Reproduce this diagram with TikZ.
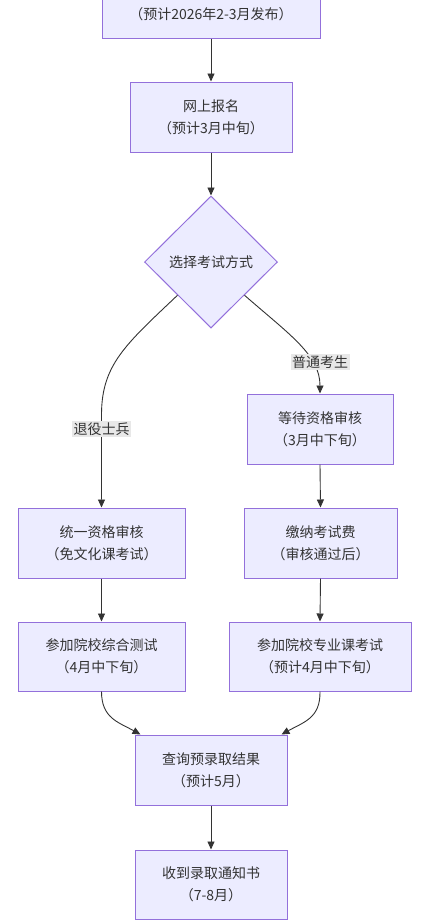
\documentclass[tikz,border=0pt]{standalone}
\usepackage{fontspec}
\setmainfont{Noto Sans CJK SC}
\usetikzlibrary{arrows.meta,shapes.geometric}
\definecolor{boxfill}{HTML}{ECECFF}
\definecolor{boxline}{HTML}{9370DB}
\definecolor{txt}{HTML}{333333}
\definecolor{lblbg}{HTML}{E8E8E8}
\tikzset{
  x=1pt, y=-1pt,
  flowbox/.style={draw=boxline, fill=boxfill, line width=1pt, inner sep=0pt, text=txt,
    align=center, minimum height=70pt, font=\fontsize{14pt}{22pt}\selectfont},
  choice/.style={diamond, draw=boxline, fill=boxfill, line width=1pt, inner sep=0pt,
    minimum width=133pt, minimum height=132pt, text=txt, font=\fontsize{14pt}{22pt}\selectfont},
  edgelbl/.style={fill=lblbg, text=txt, inner sep=1.5pt, font=\fontsize{14pt}{18pt}\selectfont},
  flow/.style={draw=txt, line width=0.9pt, -{Triangle[length=8pt,width=7pt]}},
}
\begin{document}
\begin{tikzpicture}
\useasboundingbox (0,0) rectangle (426,922);
\node[flowbox, minimum width=218pt] (top) at (211,3) {\phantom{网上报名}\\（预计2026年2-3月发布）};
\node[flowbox, minimum width=162pt] (reg) at (211,117) {网上报名\\（预计3月中旬）};
\node[choice] (dia) at (211,262) {选择考试方式};
\node[flowbox, minimum width=146pt] (wait) at (320,429) {等待资格审核\\（3月中下旬）};
\node[flowbox, minimum width=167pt] (unify) at (101.5,543) {统一资格审核\\（免文化课考试）};
\node[flowbox, minimum width=153pt] (fee) at (320.5,543) {缴纳考试费\\（审核通过后）};
\node[flowbox, minimum width=167pt, minimum height=69pt] (test) at (101.5,656.5) {参加院校综合测试\\（4月中下旬）};
\node[flowbox, minimum width=182pt, minimum height=69pt] (exam) at (320,656.5) {参加院校专业课考试\\（预计4月中下旬）};
\node[flowbox, minimum width=152pt] (query) at (211,770) {查询预录取结果\\（预计5月）};
\node[flowbox, minimum width=152pt, minimum height=69pt] (notice) at (211,884.5) {收到录取通知书\\（7-8月）};

\draw[flow] (top.south) -- (reg.north);
\draw[flow] (reg.south) -- (dia.north);
\draw[flow] (dia.south west) .. controls (125,345) and (101.5,365) .. (101.5,415) -- (unify.north);
\draw[flow] (dia.south east) .. controls (290,335) and (320,355) .. (wait.north);
\draw[flow] (wait.south) -- (fee.north);
\draw[flow] (unify.south) -- (test.north);
\draw[flow] (fee.south) -- (exam.north);
\draw[flow] (test.south) .. controls (101.5,718) and (118,722) .. ([xshift=6pt]query.north west);
\draw[flow] (exam.south) .. controls (320.5,718) and (304,722) .. ([xshift=-6pt]query.north east);
\draw[flow] (query.south) -- (notice.north);

\node[edgelbl] (lblL) at (101.5,429) {退役士兵};
\node[edgelbl] (lblR) at (320,362) {普通考生};
\end{tikzpicture}
\end{document}
